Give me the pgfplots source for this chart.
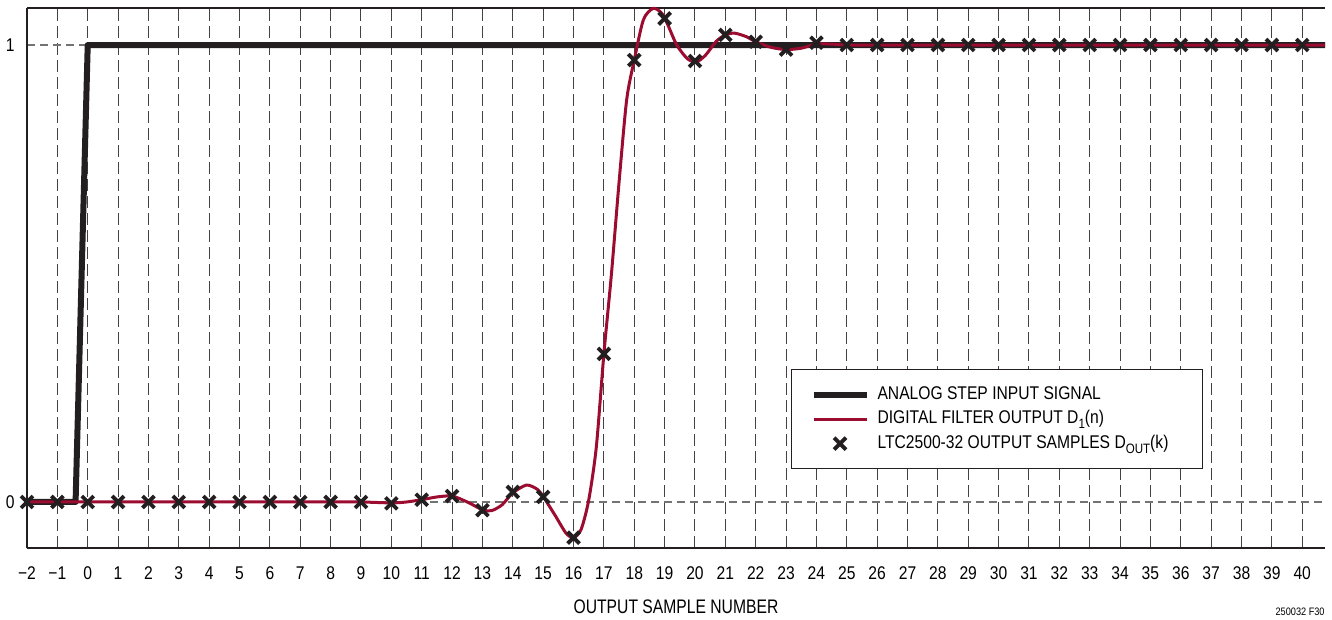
\documentclass[border=0pt]{standalone}
\usepackage{fontspec}
\setmainfont{Liberation Sans}[FakeStretch=0.85]
\newfontfamily\condfont{Liberation Sans}[FakeStretch=0.8]
\usepackage{pgfplots}
\pgfplotsset{compat=1.18}
\definecolor{ltblack}{RGB}{35,31,32}
\definecolor{ltred}{RGB}{155,12,48}
\newcommand{\sub}[1]{\raisebox{-0.5ex}{\fontsize{6.8bp}{6.8bp}\selectfont #1}}
\begin{document}
\begin{tikzpicture}
\begin{axis}[
  scale only axis,
  width=649bp, height=270bp,
  xmin=-2, xmax=40.75,
  ymin=-0.1007, ymax=1.081,
  axis x line=box, axis y line=left,
  axis line style={ltblack, line width=0.8bp, -},
  clip=false,
  xtick={-2,-1,...,40},
  xticklabels={−2,−1,0,1,2,3,4,5,6,7,8,9,10,11,12,13,14,15,16,17,18,19,20,21,22,23,24,25,26,27,28,29,30,31,32,33,34,35,36,37,38,39,40},
  ytick={0,1},
  yticklabels={0,1},
  major tick length=0pt,
  xticklabel style={anchor=north, inner sep=0pt, yshift=-9.3bp, font=\fontsize{9.2bp}{9.5bp}\selectfont},
  yticklabel style={anchor=east, inner sep=0pt, xshift=-6bp, font=\fontsize{9.2bp}{9.5bp}\selectfont},
  xmajorgrids, ymajorgrids,
  major x grid style={ltblack!85, line width=0.5bp, dash pattern=on 6bp off 2.5bp},
  major y grid style={black!55, line width=0.7bp, dash pattern=on 4bp off 2.5bp},
  xlabel={OUTPUT SAMPLE NUMBER},
  xlabel style={at={(axis description cs:0.5,0)}, anchor=north, inner sep=0pt, yshift=-25.7bp, font=\condfont\fontsize{9.8bp}{10bp}\selectfont},
  legend image code/.code={\draw[mark repeat=2,mark phase=2,#1] plot coordinates {(0bp,0bp) (13.25bp,0bp) (26.5bp,0bp)};},
  legend cell align=left,
  legend style={at={(axis cs:23.16,0.291)}, anchor=north west, draw=ltblack, line width=0.6bp, fill=white,
    inner xsep=9.5bp, inner ysep=8.3bp, row sep=3.6bp,
    nodes={inner sep=0pt, text height=6.6bp, text depth=2bp},
    font=\fontsize{9.2bp}{9.5bp}\selectfont,
    /tikz/every odd column/.style={column sep=4bp}},
]
\addplot[ltblack, line width=3bp, line join=round] coordinates {
  (-2,0) (-0.4,0) (0,1) (40.75,1)
};
\addlegendentry{ANALOG STEP INPUT SIGNAL}
\addplot[ltred, line width=1.5bp, smooth, tension=0.45] coordinates {
  (-2,0) (-1,0) (0,0) (1,0) (2,0) (3,0) (4,0) (5,0) (6,0) (7,0) (8,0) (9,0)
  (10,-0.002) (10.5,0.0) (11,0.005) (11.5,0.011) (12,0.013) (12.5,0.0)
  (13,-0.017) (13.3,-0.019) (13.65,-0.006) (14,0.020) (14.45,0.037) (14.8,0.028)
  (15,0.012) (15.4,-0.030) (15.75,-0.068) (16,-0.078) (16.25,-0.060) (16.5,0.004)
  (16.75,0.12) (17,0.324) (17.25,0.50) (17.5,0.70) (17.75,0.88) (18,0.967)
  (18.3,1.055) (18.62,1.080) (18.9,1.070) (19.1,1.045) (19.4,1.0) (19.75,0.970)
  (20.05,0.963) (20.35,0.978) (20.7,1.008) (21,1.022) (21.3,1.026) (21.7,1.018)
  (22,1.007) (22.5,0.995) (23,0.990) (23.5,0.993) (24,1.002) (24.5,1.002)
  (25,1.0) (26,1.0) (28,1.0) (30,1.0) (32,1.0) (34,1.0) (36,1.0) (38,1.0) (40.75,1.0)
};
\addlegendentry{DIGITAL FILTER OUTPUT D\sub{1}(n)}
\addplot[only marks, mark=x, mark size=4.2bp, ltblack, line width=1.9bp] coordinates {
  (-2,0) (-1,0) (0,0) (1,0) (2,0) (3,0) (4,0) (5,0) (6,0) (7,0) (8,0) (9,0)
  (10,-0.003) (11,0.005) (12,0.013) (13,-0.018) (14,0.022) (15,0.011) (16,-0.078)
  (17,0.324) (18,0.967) (19,1.058) (20,0.965) (21,1.022) (22,1.007) (23,0.990)
  (24,1.005) (25,1.0) (26,1.0) (27,1.0) (28,1.0) (29,1.0) (30,1.0) (31,1.0)
  (32,1.0) (33,1.0) (34,1.0) (35,1.0) (36,1.0) (37,1.0) (38,1.0) (39,1.0) (40,1.0)
};
\addlegendentry{LTC2500-32 OUTPUT SAMPLES D\sub{OUT}(k)\hspace*{7.5bp}}
\node[anchor=north east, inner sep=0pt, font=\fontsize{5.4bp}{6bp}\selectfont] at (axis description cs:1,0) [yshift=-30bp] {250032 F30};
\end{axis}
\path (current axis.south west) ++(-13.5bp,-36bp);
\path (current axis.north east) ++(3.5bp,4bp);
\end{tikzpicture}
\end{document}
